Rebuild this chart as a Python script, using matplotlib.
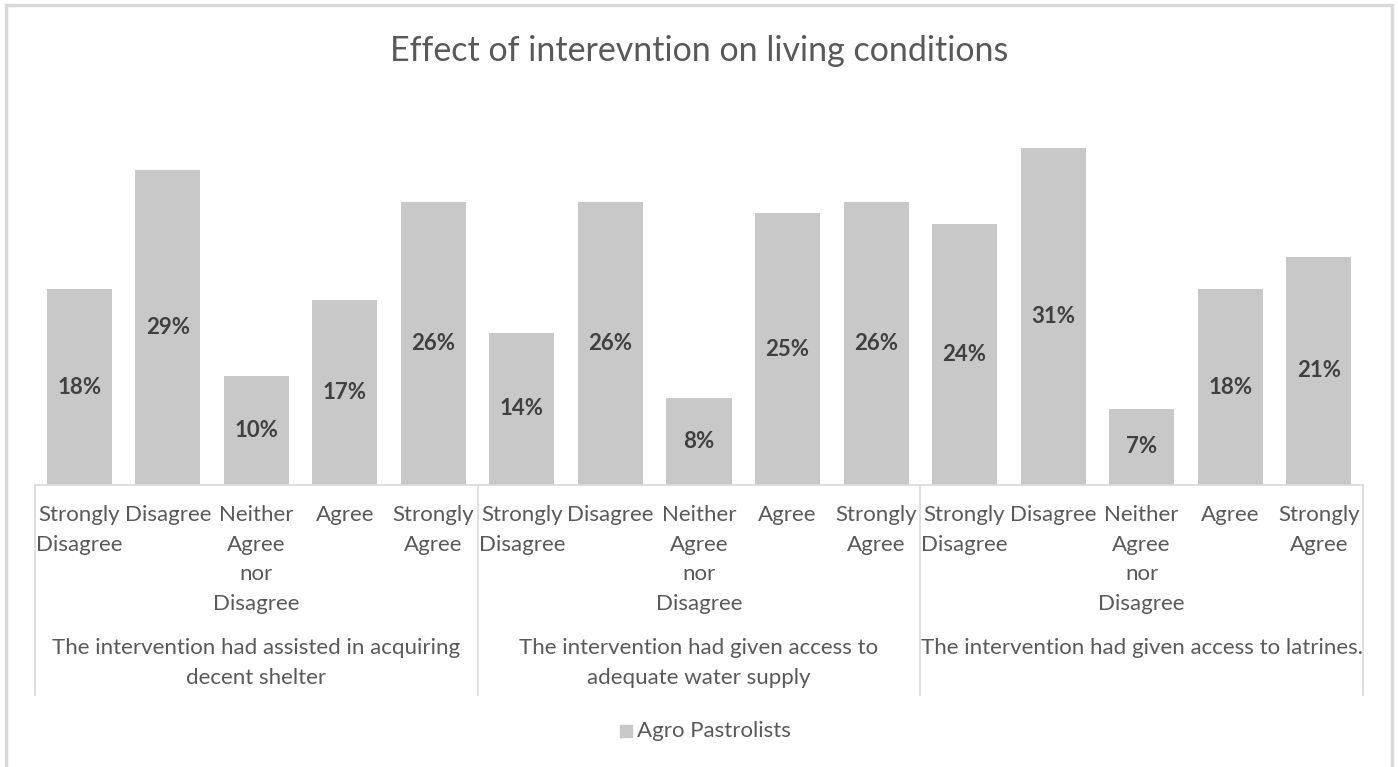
import matplotlib.pyplot as plt
import matplotlib.patches as patches
from matplotlib.transforms import blended_transform_factory
import numpy as np

plt.rcParams['font.family'] = ['Lato', 'DejaVu Sans']

# Survey responses, grouped by statement
responses = ['Strongly\nDisagree', 'Disagree', 'Neither\nAgree\nnor\nDisagree',
             'Agree', 'Strongly\nAgree']
statements = ['The intervention had assisted in acquiring\ndecent shelter',
              'The intervention had given access to\nadequate water supply',
              'The intervention had given access to latrines.']
shelter = [18, 29, 10, 17, 26]
water = [14, 26, 8, 25, 26]
latrines = [24, 31, 7, 18, 21]
series_name = 'Agro Pastrolists'

values = shelter + water + latrines
labels = responses * 3

W, H = 1398, 767
fig = plt.figure(figsize=(W / 100, H / 100), dpi=100)

def fy(py):
    return 1 - py / H

ax_left, ax_right, ax_base, ax_top = 35, 1363, 485, 137
ax = fig.add_axes([ax_left / W, fy(ax_base), (ax_right - ax_left) / W,
                   (ax_base - ax_top) / H])

bar_col = '#c8c8c8'
txt_col = '#595959'
x = np.arange(len(values))
ax.bar(x, values, width=0.735, color=bar_col)
for xi, v in zip(x, values):
    ax.text(xi, v / 2, f'{v}%', ha='center', va='center', fontsize=16,
            fontweight='bold', color='#404040')

ax.set_xlim(-0.5, len(values) - 0.5)
ax.set_ylim(0, 32)
ax.axis('off')

# category axis drawn by hand: baseline, group dividers and two label rows
trans = blended_transform_factory(ax.transData, fig.transFigure)
ax.plot([-0.5, len(values) - 0.5], [fy(ax_base)] * 2, transform=trans,
        color='#d9d9d9', lw=1.2, clip_on=False)
for b in [-0.5, 4.5, 9.5, 14.5]:
    ax.plot([b, b], [fy(ax_base), fy(695)], transform=trans,
            color='#d9d9d9', lw=1.2, clip_on=False)

for xi, lab in zip(x, labels):
    ax.text(xi, fy(505), lab, transform=trans, ha='center', va='top',
            fontsize=16, color=txt_col, linespacing=1.6)
for g, s in enumerate(statements):
    ax.text(g * 5 + 2, fy(638), s, transform=trans, ha='center', va='top',
            fontsize=16, color=txt_col, linespacing=1.6)

fig.text(0.5, fy(51), 'Effect of interevntion on living conditions',
         ha='center', va='center', fontsize=24.5, color=txt_col)

# legend
fig.patches.append(patches.Rectangle((620 / W, fy(737)), 12 / W, 12 / H,
                                     transform=fig.transFigure,
                                     color=bar_col))
fig.text(637 / W, fy(731), series_name, ha='left', va='center',
         fontsize=16, color=txt_col)

# chart frame
frame = patches.Rectangle((6 / W, -0.05), (1392 - 6) / W, fy(5) + 0.05,
                          transform=fig.transFigure, fill=False,
                          edgecolor='#d9d9d9', lw=2.5)
fig.patches.append(frame)

fig.savefig('out.png', dpi=100)
